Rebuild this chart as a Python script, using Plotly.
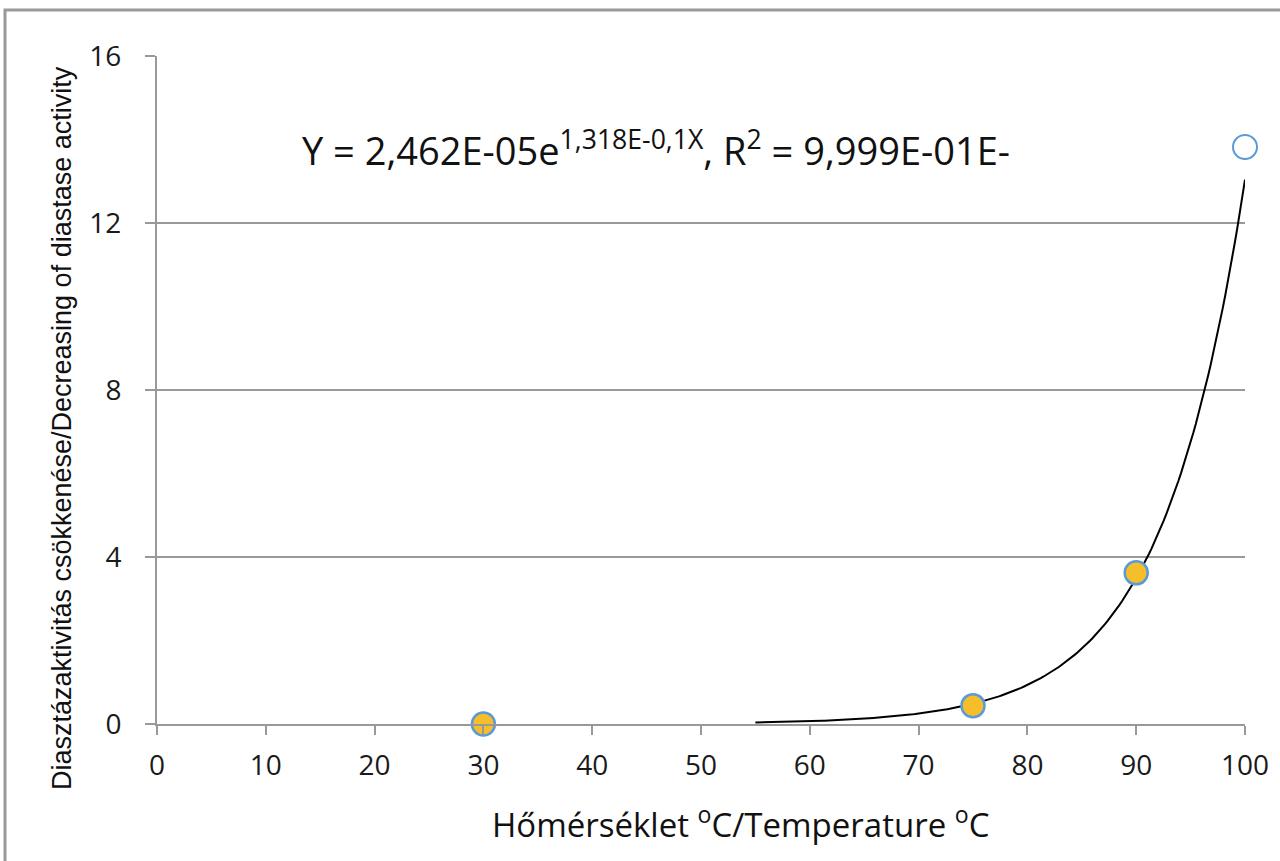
import numpy as np
import plotly.graph_objects as go

# Data
temperature = [30, 75, 90]
decrease = [0.0, 0.44, 3.62]
extra_temp = [100]
extra_val = [13.82]

# Exponential trendline (from the equation shown on the chart)
fit_a = 2.462e-05
fit_b = 0.1318
fit_x0, fit_x1 = 55, 100

x_ticks = list(range(0, 101, 10))
y_ticks = [0, 4, 8, 12, 16]

fx = np.linspace(fit_x0, fit_x1, 200)
fy = fit_a * np.exp(fit_b * fx)

font = "Open Sans"
gray = "#999999"

fig = go.Figure()
fig.add_trace(go.Scatter(x=fx, y=fy, mode="lines",
                         line=dict(color="black", width=2), showlegend=False,
                         hoverinfo="skip"))
fig.add_trace(go.Scatter(x=temperature, y=decrease, mode="markers",
                         cliponaxis=False,
                         marker=dict(size=23, color="#F7BE2C",
                                     line=dict(color="#5B9BD5", width=2.5)),
                         showlegend=False))
fig.add_trace(go.Scatter(x=extra_temp, y=extra_val, mode="markers",
                         cliponaxis=False,
                         marker=dict(size=24, color="white",
                                     line=dict(color="#5B9BD5", width=2)),
                         showlegend=False))

fig.update_layout(
    width=1280, height=861,
    margin=dict(l=157, r=35, t=56, b=137),
    paper_bgcolor="white", plot_bgcolor="white",
    font=dict(family=font, color="#1a1a1a"),
    xaxis=dict(range=[0, 100], tickvals=x_ticks, showgrid=False,
               showline=True, linecolor=gray, linewidth=2,
               ticks="outside", ticklen=9, tickcolor=gray, tickwidth=2,
               tickfont=dict(size=28), zeroline=False, ticklabelstandoff=6),
    yaxis=dict(range=[0, 16], tickvals=y_ticks, showgrid=True,
               gridcolor=gray, gridwidth=1.5,
               showline=True, linecolor=gray, linewidth=2,
               ticks="outside", ticklen=10, tickcolor=gray, tickwidth=2,
               tickfont=dict(size=28), zeroline=False, ticklabelstandoff=18),
    shapes=[dict(type="rect", xref="paper", yref="paper",
                 x0=-0.1397, x1=1.2, y0=-0.4, y1=1.069,
                 line=dict(color="#999999", width=3), fillcolor="rgba(0,0,0,0)",
                 layer="below")],
    annotations=[
        dict(x=0.1314, y=0.862, xref="paper", yref="paper",
             xanchor="left", yanchor="middle", showarrow=False,
             text="Y = 2,462E-05e<sup>1,318E-0,1X</sup>, R<sup>2</sup> = 9,999E-01E-",
             font=dict(size=38, color="#111111")),
        dict(x=0.536, y=-0.147, xref="paper", yref="paper",
             xanchor="center", yanchor="middle", showarrow=False,
             text="Hőmérséklet <sup>o</sup>C/Temperature <sup>o</sup>C",
             font=dict(size=33, color="#111111")),
        dict(x=-0.0873, y=0.443, xref="paper", yref="paper",
             xanchor="center", yanchor="middle", showarrow=False, textangle=-90,
             text="Diasztázaktivitás csökkenése/Decreasing of diastase activity",
             font=dict(size=27, color="#111111",
                       family="Liberation Sans Narrow, Liberation Sans")),
    ],
)

fig.write_html("out.html")
